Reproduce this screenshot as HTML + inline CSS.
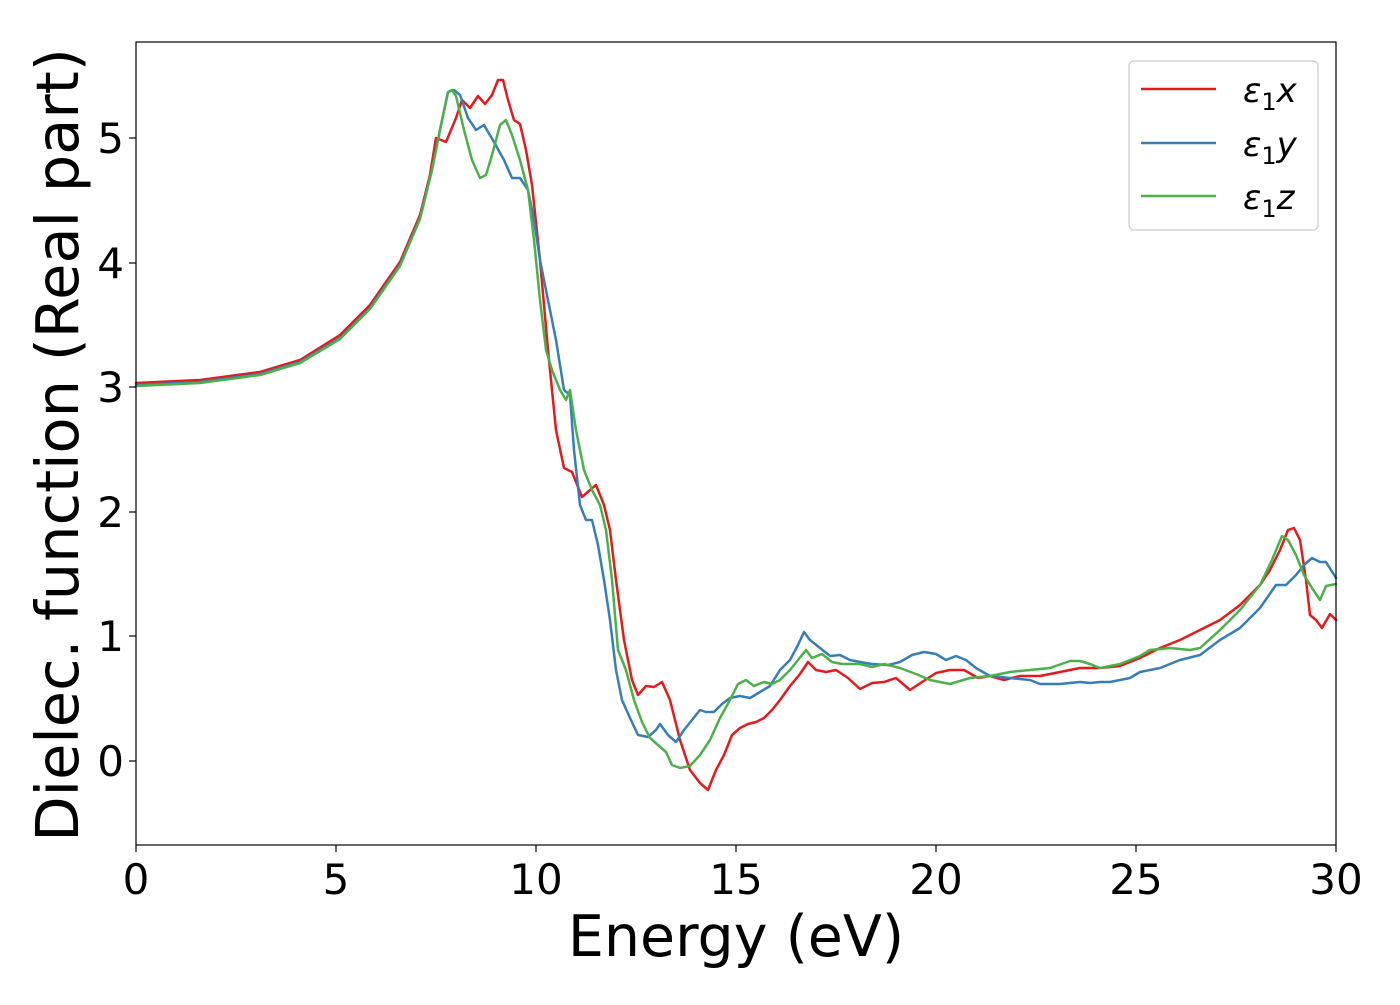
<!DOCTYPE html><html><head><style>body{margin:0;background:#fff}</style></head><body>
<svg width="1400" height="1000" xmlns="http://www.w3.org/2000/svg" font-family="DejaVu Sans, Liberation Sans, sans-serif">
<rect width="1400" height="1000" fill="#fff"/>
<g fill="none" stroke-width="2.5" stroke-linejoin="round" stroke-linecap="round">
<polyline stroke="#e41a1c" points="136,383 200,380 260,372 300,360 340,335 370,305 400,262 420,215 430,175 436,138 446,142 456,118 462,100 470,108 478,96 485,104 492,95 498,80 503,80 508,100 514,120 520,124 526,150 532,185 540,260 548,350 556,430 564,468 572,472 582,497 590,490 596,485 604,505 610,530 616,580 624,640 632,680 638,695 646,686 654,687 662,682 670,700 680,740 690,770 700,783 708,790 716,770 724,755 732,735 740,728 748,724 756,722 764,718 772,710 780,700 790,686 800,674 808,662 816,670 826,672 836,670 848,678 860,689 872,683 884,682 896,678 910,690 922,682 936,673 950,670 964,670 978,678 990,676 1004,680 1020,676 1040,676 1060,672 1080,668 1100,668 1120,666 1140,658 1160,648 1180,640 1200,630 1220,620 1240,605 1260,585 1270,570 1280,550 1288,530 1294,528 1300,540 1306,580 1310,615 1316,620 1322,628 1330,614 1336,620"/>
<polyline stroke="#377eb8" points="136,385 200,382 260,374 300,362 340,338 370,308 400,265 420,218 432,170 440,130 448,92 454,90 460,95 468,118 476,130 484,125 494,142 504,160 512,178 520,178 528,190 534,220 540,260 548,300 556,340 564,390 570,395 574,450 580,505 586,520 592,520 598,545 604,580 610,620 616,670 622,700 630,718 638,735 648,737 656,730 660,724 668,735 676,742 684,730 692,720 700,710 706,712 714,712 722,704 730,698 740,696 750,698 760,692 770,686 780,670 790,660 798,645 804,632 810,640 820,648 830,656 840,655 850,660 860,662 872,664 888,665 900,662 912,655 924,652 936,654 946,660 956,656 966,660 976,668 990,676 1010,678 1030,680 1040,684 1060,684 1080,682 1090,683 1100,682 1110,682 1120,680 1130,678 1140,672 1160,668 1180,660 1200,655 1220,640 1240,628 1260,608 1276,585 1286,585 1296,575 1304,565 1312,558 1320,562 1326,562 1336,578"/>
<polyline stroke="#4daf4a" points="136,386 200,383 260,375 300,363 340,339 370,309 400,266 420,219 432,170 440,130 448,92 452,90 456,96 464,130 472,160 480,178 486,175 492,155 500,125 506,120 512,135 520,160 528,190 534,240 540,300 546,350 552,370 560,390 566,400 570,390 576,430 584,470 592,490 600,505 606,530 612,580 618,650 626,670 634,700 642,722 650,738 658,745 666,752 672,765 680,768 690,766 700,755 710,740 720,718 730,700 738,684 746,680 754,686 764,682 772,684 780,680 790,670 798,660 806,650 812,658 822,654 832,662 842,664 860,664 872,667 884,664 900,668 916,674 930,680 950,684 970,678 990,676 1010,672 1030,670 1050,668 1070,661 1080,661 1090,664 1100,668 1120,664 1140,656 1150,650 1170,648 1190,650 1200,648 1220,630 1240,610 1260,585 1272,560 1282,536 1288,540 1296,555 1304,575 1312,588 1320,600 1326,586 1336,584"/>
</g>
<rect x="136" y="42" width="1200" height="803" fill="none" stroke="#000" stroke-width="1.2"/>
<g stroke="#000" stroke-width="1.2">
<line x1="136" y1="845" x2="136" y2="852"/><line x1="336" y1="845" x2="336" y2="852"/><line x1="536" y1="845" x2="536" y2="852"/><line x1="736" y1="845" x2="736" y2="852"/><line x1="936" y1="845" x2="936" y2="852"/><line x1="1136" y1="845" x2="1136" y2="852"/><line x1="1336" y1="845" x2="1336" y2="852"/>
<line x1="129" y1="761" x2="136" y2="761"/><line x1="129" y1="636" x2="136" y2="636"/><line x1="129" y1="512" x2="136" y2="512"/><line x1="129" y1="387" x2="136" y2="387"/><line x1="129" y1="263" x2="136" y2="263"/><line x1="129" y1="138" x2="136" y2="138"/>
</g>
<g font-size="42" text-anchor="middle">
<text x="136" y="894">0</text><text x="336" y="894">5</text><text x="536" y="894">10</text><text x="736" y="894">15</text><text x="936" y="894">20</text><text x="1136" y="894">25</text><text x="1336" y="894">30</text>
</g>
<g font-size="42" text-anchor="end">
<text x="124" y="776">0</text><text x="124" y="651">1</text><text x="124" y="527">2</text><text x="124" y="402">3</text><text x="124" y="278">4</text><text x="124" y="153">5</text>
</g>
<text x="736" y="956" font-size="57" text-anchor="middle">Energy (eV)</text>
<text transform="translate(78,445) rotate(-90)" font-size="59" text-anchor="middle">Dielec. function (Real part)</text>
<rect x="1129" y="61" width="189" height="169" rx="5" fill="#fff" stroke="#ccc" stroke-width="1.2"/>
<g stroke-width="2.5"><line x1="1141" y1="89" x2="1216" y2="89" stroke="#e41a1c"/><line x1="1141" y1="143" x2="1216" y2="143" stroke="#377eb8"/><line x1="1141" y1="196" x2="1216" y2="196" stroke="#4daf4a"/></g>
<g font-size="34" font-style="italic">
<text x="1243" y="102">ε<tspan font-size="24" font-style="normal" dy="8">1</tspan><tspan dy="-8">x</tspan></text>
<text x="1243" y="156">ε<tspan font-size="24" font-style="normal" dy="8">1</tspan><tspan dy="-8">y</tspan></text>
<text x="1243" y="209">ε<tspan font-size="24" font-style="normal" dy="8">1</tspan><tspan dy="-8">z</tspan></text>
</g>
</svg>
</body></html>
